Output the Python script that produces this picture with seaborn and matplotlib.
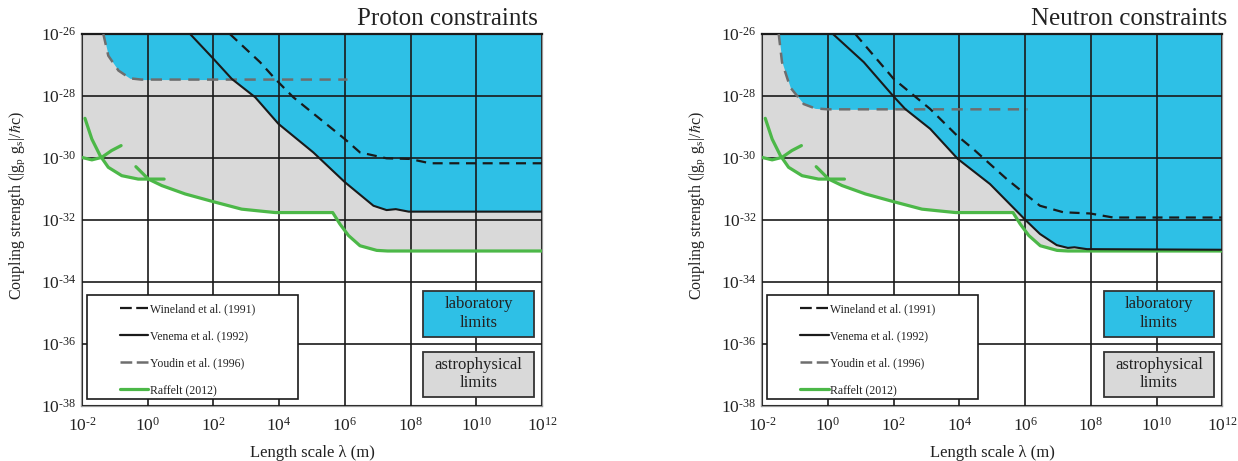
import numpy as np
import matplotlib
matplotlib.use("Agg")
import matplotlib.pyplot as plt
import seaborn as sns
from matplotlib.patches import Rectangle
from matplotlib.lines import Line2D
from matplotlib.ticker import NullLocator, FixedFormatter

# ---------------- data (log10 of length scale / coupling) ----------------
raffelt_a_x = [-2.05, -1.7, -1.4, -1.1, -0.81]
raffelt_a_y = [-29.97, -30.06, -29.98, -29.76, -29.6]
raffelt_b_x = [-1.91, -1.7, -1.45, -1.2, -0.79, -0.29, 0.5]
raffelt_b_y = [-28.72, -29.39, -29.92, -30.3, -30.57, -30.68, -30.68]
raffelt_c_x = [-0.36, 0.02, 0.43, 1.14, 2.0, 2.86, 3.32, 3.88, 5.63, 5.85, 6.11, 6.46, 6.97, 7.3, 12.0]
raffelt_c_y = [-30.28, -30.68, -30.89, -31.16, -31.41, -31.65, -31.7, -31.76, -31.76, -32.13, -32.5, -32.83, -32.98, -33.0, -33.0]

youdin_p_x = [-1.35, -1.2, -0.89, -0.54, -0.2, 6.08]
youdin_p_y = [-26.0, -26.7, -27.18, -27.43, -27.47, -27.47]
venema_p_x = [1.29, 2.0, 2.56, 3.27, 3.98, 5.04, 6.0, 6.87, 7.27, 7.55, 7.94, 12.0]
venema_p_y = [-26.0, -26.8, -27.45, -28.04, -28.9, -29.82, -30.78, -31.54, -31.68, -31.65, -31.73, -31.73]
wineland_p_x = [2.5, 3.42, 3.88, 4.43, 6.0, 6.46, 7.27, 7.98, 8.59, 12.0]
wineland_p_y = [-26.0, -26.91, -27.45, -28.04, -29.39, -29.82, -30.01, -30.03, -30.17, -30.17]

youdin_n_x = [-1.5, -1.4, -1.15, -0.74, -0.39, 0.0, 6.07]
youdin_n_y = [-26.0, -26.91, -27.72, -28.26, -28.4, -28.43, -28.43]
venema_n_x = [0.15, 1.09, 2.0, 2.35, 3.11, 3.95, 4.93, 6.0, 6.45, 6.96, 7.3, 7.5, 7.88, 12.0]
venema_n_y = [-26.0, -26.91, -28.02, -28.42, -29.06, -30.03, -30.84, -31.99, -32.45, -32.81, -32.9, -32.88, -32.94, -32.96]
wineland_n_x = [0.83, 2.0, 3.11, 3.93, 4.42, 5.44, 6.0, 6.45, 7.16, 7.98, 8.68, 12.0]
wineland_n_y = [-26.0, -27.45, -28.42, -29.28, -29.71, -30.68, -31.16, -31.54, -31.75, -31.79, -31.92, -31.92]

x_ticks_exp = [-2, 0, 2, 4, 6, 8, 10, 12]
y_ticks_exp = [-38, -36, -34, -32, -30, -28, -26]
x_tick_labels = [r"$\mathdefault{10^{\text{-}2}}$", r"$\mathdefault{10^{0}}$", r"$\mathdefault{10^{2}}$",
                 r"$\mathdefault{10^{4}}$", r"$\mathdefault{10^{6}}$", r"$\mathdefault{10^{8}}$",
                 r"$\mathdefault{10^{10}}$", r"$\mathdefault{10^{12}}$"]
y_tick_labels = [r"$\mathdefault{10^{\text{-}38}}$", r"$\mathdefault{10^{\text{-}36}}$",
                 r"$\mathdefault{10^{\text{-}34}}$", r"$\mathdefault{10^{\text{-}32}}$",
                 r"$\mathdefault{10^{\text{-}30}}$", r"$\mathdefault{10^{\text{-}28}}$",
                 r"$\mathdefault{10^{\text{-}26}}$"]
legend_labels = ["Wineland et al. (1991)", "Venema et al. (1992)", "Youdin et al. (1996)", "Raffelt (2012)"]
titles = ["Proton constraints", "Neutron constraints"]

# ---------------- style ----------------
sns.set_theme(style="white")
plt.rcParams["font.family"] = ["Liberation Serif", "DejaVu Serif"]
plt.rcParams["mathtext.fontset"] = "stix"
plt.rcParams["axes.unicode_minus"] = False

CYAN = "#2ec0e6"
GRAY = "#d9d9d9"
GREEN = "#4cb848"
YGRAY = "#6e6e6e"
BLACK = "#1a1a1a"
TXT = "#222222"

fig = plt.figure(figsize=(12.38, 4.61), dpi=100)
ax_l = fig.add_axes([82 / 1238, 55 / 461, 460 / 1238, 372 / 461])
ax_r = fig.add_axes([762.3 / 1238, 55 / 461, 460 / 1238, 372 / 461])

grid = np.linspace(-2.1, 12.1, 2000)


def on_grid(xs, ys):
    v = np.interp(grid, xs, ys)
    v[(grid < xs[0]) | (grid > xs[-1])] = np.nan
    return v


def envelope(curves):
    stack = np.vstack([on_grid(x, y) for x, y in curves])
    with np.errstate(all="ignore"):
        env = np.nanmin(stack, axis=0)
    return env


def panel(ax, youdin, venema, wineland, title, title_x):
    ax.set_xscale("log")
    ax.set_yscale("log")
    ax.set_xlim(10.0 ** -2, 10.0 ** 12)
    ax.set_ylim(10.0 ** -38, 10.0 ** -26)

    g_env = envelope([(raffelt_a_x, raffelt_a_y), (raffelt_b_x, raffelt_b_y), (raffelt_c_x, raffelt_c_y)])
    ok = ~np.isnan(g_env)
    ax.fill_between(10 ** grid[ok], 10 ** g_env[ok], 10.0 ** -25, color=GRAY, lw=0, zorder=1)
    c_env = envelope([youdin, venema, wineland])
    ok = ~np.isnan(c_env)
    ax.fill_between(10 ** grid[ok], 10 ** c_env[ok], 10.0 ** -25, color=CYAN, lw=0, zorder=1.2)

    kw = dict(estimator=None, sort=False, ax=ax, legend=False, zorder=3)
    for xs, ys in [(raffelt_a_x, raffelt_a_y), (raffelt_b_x, raffelt_b_y), (raffelt_c_x, raffelt_c_y)]:
        sns.lineplot(x=10.0 ** np.array(xs), y=10.0 ** np.array(ys), color=GREEN, lw=2.3, **kw)
    sns.lineplot(x=10.0 ** np.array(youdin[0]), y=10.0 ** np.array(youdin[1]), color=YGRAY, lw=1.8,
                 linestyle=(0, (4.5, 3)), **kw)
    sns.lineplot(x=10.0 ** np.array(venema[0]), y=10.0 ** np.array(venema[1]), color=BLACK, lw=1.5, **kw)
    sns.lineplot(x=10.0 ** np.array(wineland[0]), y=10.0 ** np.array(wineland[1]), color=BLACK, lw=1.6,
                 linestyle=(0, (4.5, 3)), **kw)

    ax.set_xticks([10.0 ** k for k in x_ticks_exp])
    ax.set_yticks([10.0 ** k for k in y_ticks_exp])
    ax.xaxis.set_minor_locator(NullLocator())
    ax.yaxis.set_minor_locator(NullLocator())
    ax.xaxis.set_major_formatter(FixedFormatter(x_tick_labels))
    ax.yaxis.set_major_formatter(FixedFormatter(y_tick_labels))
    ax.tick_params(axis="both", length=0, labelsize=12.5, colors=TXT)
    ax.tick_params(axis="x", pad=8)
    ax.tick_params(axis="y", pad=4)
    ax.grid(True, color=BLACK, lw=1.2)
    ax.set_axisbelow(False)
    for s in ax.spines.values():
        s.set_color("#9a9a9a")
        s.set_linewidth(1.6)
    ax.spines["top"].set_color(BLACK)

    ax.set_xlabel("Length scale λ (m)", fontsize=12, color=TXT, labelpad=7)
    ax.set_ylabel(r"Coupling strength (|g$_\mathregular{p}$ g$_\mathregular{s}$|/$\hbar$c)",
                  fontsize=11.5, color=TXT)
    ax.yaxis.set_label_coords(-0.12, 0.54)
    ax.text(title_x, 1.024, title, transform=ax.transAxes, ha="right", va="baseline",
            fontsize=18, color=TXT)

    # legend box
    ax.add_patch(Rectangle((0.011, 0.019), 0.459, 0.28, transform=ax.transAxes,
                           facecolor="white", edgecolor=BLACK, lw=1.2, zorder=5))
    handles = [
        Line2D([], [], color=BLACK, lw=1.6, linestyle=(0, (5.3, 2))),
        Line2D([], [], color=BLACK, lw=1.6),
        Line2D([], [], color=YGRAY, lw=1.8, linestyle=(0, (4.7, 1.8))),
        Line2D([], [], color=GREEN, lw=2.3),
    ]
    leg = ax.legend(handles, legend_labels, loc="upper left", bbox_to_anchor=(0.0826, 0.277),
                    frameon=False, fontsize=8.5, handlelength=2.4, handletextpad=0.1,
                    labelspacing=1.27, borderpad=0, borderaxespad=0)
    leg.set_zorder(6)
    for t in leg.get_texts():
        t.set_color(TXT)

    # region key boxes
    ax.add_patch(Rectangle((0.742, 0.186), 0.24, 0.124, transform=ax.transAxes,
                           facecolor=CYAN, edgecolor="#333333", lw=1.3, zorder=5))
    ax.text(0.862, 0.248, "laboratory\nlimits", transform=ax.transAxes, ha="center", va="center",
            fontsize=12, linespacing=1.25, color=TXT, zorder=6)
    ax.add_patch(Rectangle((0.742, 0.025), 0.24, 0.121, transform=ax.transAxes,
                           facecolor=GRAY, edgecolor="#333333", lw=1.3, zorder=5))
    ax.text(0.862, 0.0855, "astrophysical\nlimits", transform=ax.transAxes, ha="center", va="center",
            fontsize=12, linespacing=1.2, color=TXT, zorder=6)


panel(ax_l, (youdin_p_x, youdin_p_y), (venema_p_x, venema_p_y), (wineland_p_x, wineland_p_y), titles[0], 0.992)
panel(ax_r, (youdin_n_x, youdin_n_y), (venema_n_x, venema_n_y), (wineland_n_x, wineland_n_y), titles[1], 1.01)

fig.savefig("out.png", dpi=100)
